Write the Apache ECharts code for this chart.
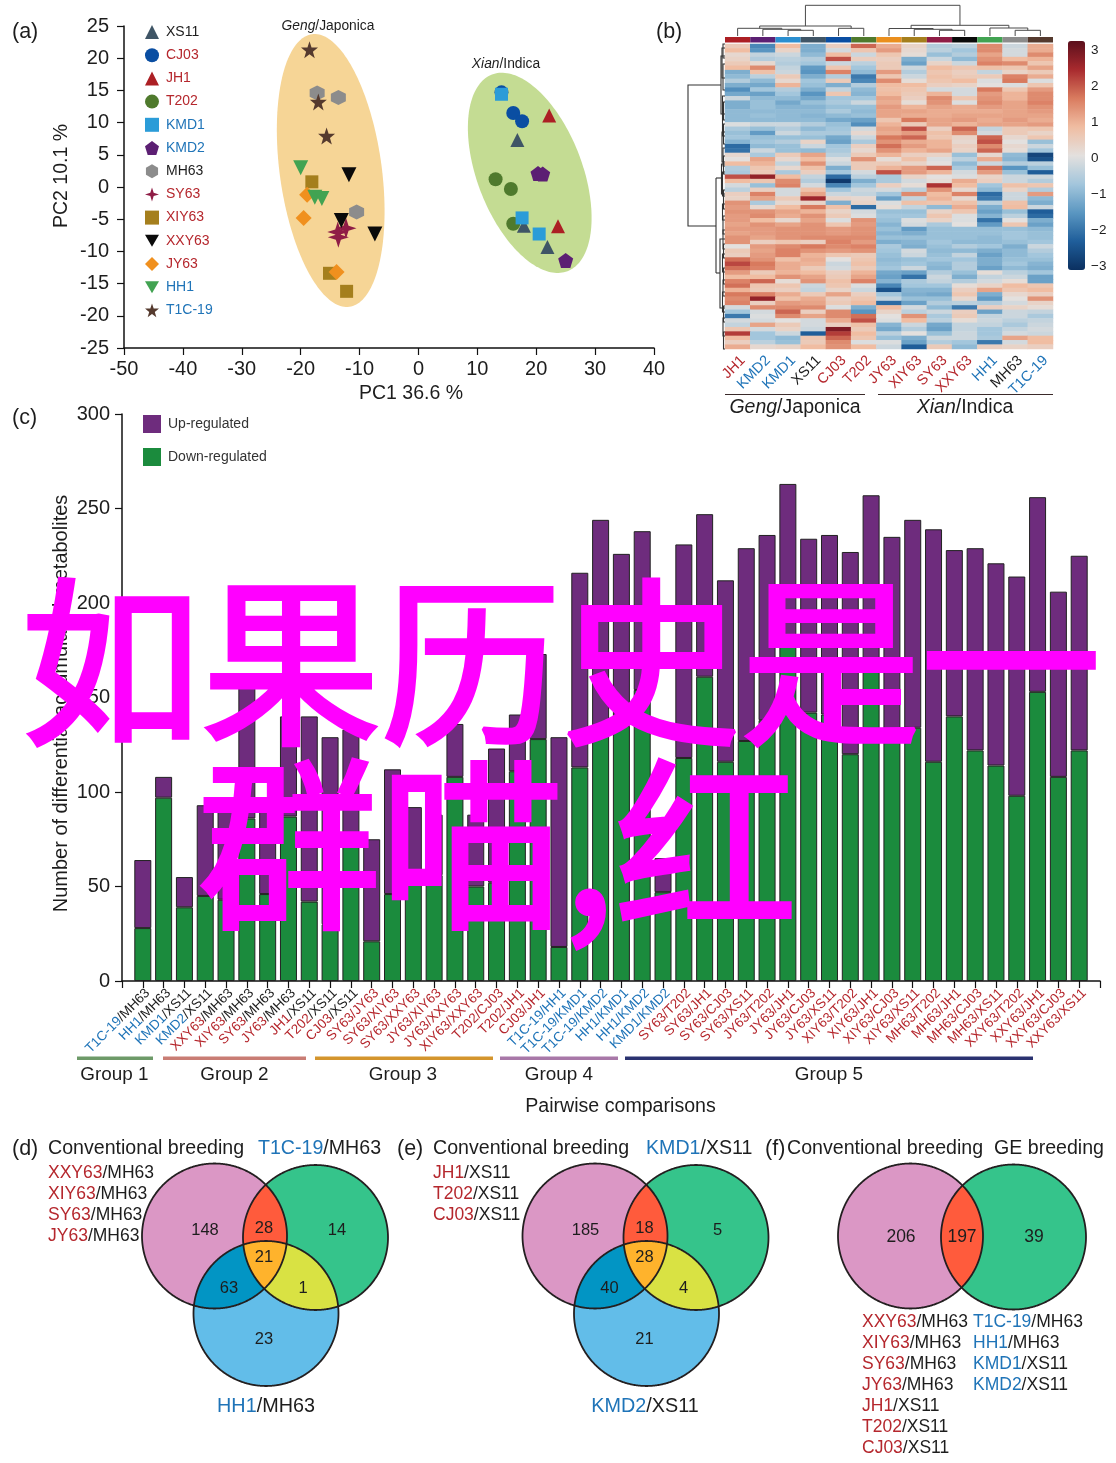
<!DOCTYPE html>
<html><head><meta charset="utf-8">
<style>html,body{margin:0;padding:0;background:#fff}#c{width:1116px;height:1463px}</style>
<script src="https://cdn.jsdelivr.net/npm/echarts@6/dist/echarts.min.js"></script>
</head><body><div id="c"></div>
<script>
/* ---------- panel (a) values ---------- */
const XS11 = [[16.8,7.3],[17.9,-6],[21.9,-9.3]];
const CJ03 = [[14.1,14.7],[16.1,11.5],[17.6,10.2]];
const JH1 = [[22.2,11.1],[23.7,-6.1]];
const T202 = [[13.1,1.2],[15.7,-0.3],[16.1,-5.7]];
const KMD1 = [[14.1,14.4],[17.6,-4.8],[20.5,-7.3]];
const KMD2 = [[20.3,2.1],[21.1,2],[25,-11.4]];
const MH63 = [[-17.2,14.6],[-13.6,13.9],[-10.5,-3.9]];
const SY63 = [[-12.3,-6.4],[-13.7,-7],[-13.6,-7.8]];
const XIY63 = [[-18.1,0.8],[-15.1,-13.4],[-12.2,-16.2]];
const XXY63 = [[-11.8,1.9],[-13.1,-5.2],[-7.4,-7.3]];
const JY63 = [[-18.9,-1.2],[-19.5,-4.8],[-13.9,-13.2]];
const HH1 = [[-20,3],[-17.6,-1.6],[-16.4,-1.8]];
const T1C19 = [[-18.5,21.3],[-17,13.2],[-15.6,7.9]];
const ellipseCenters = [[-14.9,2.56],[18.9,2.2]];

/* ---------- panel (b) values (tenths of z-score, rows top to bottom) ---------- */
const heatColumns = ['JH1','KMD2','KMD1','XS11','CJ03','T202','JY63','XIY63','SY63','XXY63','HH1','MH63','T1C-19'];
const heatRows = [
[5,-18,8,-12,4,18,10,3,-6,-5,14,-3,10],[8,-16,3,-12,-2,6,12,2,-5,-8,14,-2,10],[2,-4,-3,-10,8,-3,6,1,-9,-6,11,-2,14],
[3,-6,-5,-6,20,4,4,-12,-3,-10,13,8,9],[5,2,-6,-8,-3,-5,5,-14,3,-3,15,14,6],[8,14,-4,-15,6,-8,5,-3,8,6,7,6,11],
[-12,7,-3,-16,15,-10,12,-6,6,4,-4,3,5],[-10,-5,5,-12,-6,-20,6,-3,7,5,5,15,10],[-6,-10,2,-8,5,-18,14,1,6,8,-1,16,-1],
[-12,-13,9,-9,-12,-6,8,8,4,3,0,-1,6],[-17,-8,-6,-12,-4,-10,7,6,-2,-2,16,6,12],[-13,-14,-8,-16,6,-11,8,5,9,-2,12,9,14],
[-3,-10,-10,-13,-8,-8,11,4,14,6,13,9,14],[-12,-9,-13,-9,-7,-3,10,1,13,-1,14,11,15],[-12,-9,-11,-11,-9,-9,12,9,11,10,12,11,13],
[-10,-10,-10,-10,-7,-10,11,11,10,10,10,11,12],[-10,-9,-10,-11,-10,-9,11,10,10,11,11,11,11],[-10,-10,-10,-10,-13,-14,6,16,11,12,10,12,10],
[-1,-3,-3,-6,-9,-17,9,5,11,9,11,11,12],[-7,-9,-6,-10,-8,-2,11,20,4,18,-4,5,6],[-9,-15,-3,-7,-7,2,10,12,7,14,-2,5,3],
[-8,-9,-9,-9,-13,-3,16,18,6,3,18,2,6],[-11,-8,-6,3,-14,-7,13,10,9,2,20,0,-9],
[-22,-10,-9,-3,-8,4,17,12,9,4,14,2,-3],[-21,-3,-9,-10,-7,2,13,9,11,3,18,1,-8],[2,-7,5,11,-5,5,9,4,3,-9,2,-10,-28],
[0,11,2,8,-1,13,1,7,-1,-5,10,-11,-26],[8,9,-4,13,-3,5,5,3,0,-10,-3,-6,-5],[-6,6,2,7,-12,5,9,12,18,-7,17,-16,-9],
[-7,5,-7,4,-8,-2,20,12,9,-2,12,-9,-24],[20,26,8,-4,-22,-5,-7,3,0,-1,3,-3,-3],[8,6,14,-6,-30,-12,-7,-2,1,10,4,-3,-6],
[-2,-9,15,-2,-18,-8,4,1,23,8,-8,7,6],[-5,4,-2,7,-8,-3,-2,-5,13,2,-10,3,-6],[4,15,-2,11,-3,-4,-8,14,8,15,-22,-3,12],
[3,11,5,25,3,2,-14,-4,9,2,-20,-3,-10],[13,-7,2,3,-12,3,-1,7,6,7,-5,7,-12],[12,2,8,16,7,-22,1,-4,-10,10,-12,8,-3],
[13,13,11,9,3,-2,-9,-9,3,6,-14,-9,-24],[12,14,10,13,5,-1,-8,-8,6,-1,-11,-5,-22],[12,8,2,11,-1,13,-9,-1,3,-1,-21,0,-12],
[11,13,11,13,6,12,-11,-2,-7,0,-15,6,-14],[12,12,13,13,12,13,-9,-15,-9,-9,-9,-9,-10],[11,12,13,13,12,13,-11,-12,-9,-9,-9,-8,-9],
[13,11,13,14,14,14,-9,-9,-9,-9,-10,-8,-9],[13,4,6,4,15,12,-12,-11,-8,-10,-10,-9,-8],
[0,12,14,16,14,15,-7,-12,-9,-6,-8,-12,-3],[5,11,15,13,12,13,-8,-2,-10,-10,-12,-10,-6],[4,12,15,9,6,5,-9,-3,-9,-4,-14,-10,-8],
[17,13,7,10,0,6,-10,-9,-8,-8,-12,-9,-9],[21,16,10,9,-3,7,-9,-8,-10,-6,-12,-8,-11],[17,15,10,5,-2,5,-8,-3,-11,-6,-14,-10,-12],
[12,5,9,8,4,9,-13,-14,-6,-9,1,-5,-8],[8,8,13,11,5,11,-14,-21,-3,-12,-4,-3,-14],[15,18,1,13,7,15,-11,-7,-4,-6,-2,1,-14],
[17,6,6,-3,6,-1,-18,-8,-8,1,3,8,6],[9,5,4,-4,3,-3,-26,-11,-11,4,11,6,8],[16,15,10,5,11,4,-8,-12,-13,6,-12,2,4],
[14,26,7,10,4,6,-4,-9,-9,2,-15,0,13],[15,4,12,11,5,8,-22,-14,-6,-5,-6,-2,3],[-2,14,14,14,-1,-12,8,-2,-10,-20,4,3,1],
[-8,-2,18,4,14,-16,3,-5,-3,4,-14,-3,-4],[-20,-1,14,11,14,17,0,13,-7,5,-4,-3,-7],[-2,-2,0,-2,10,20,-1,8,-5,1,-3,-5,-4],
[-4,11,5,-2,4,7,-11,-3,-13,-4,-4,-7,-3],[6,-2,3,-3,28,5,-13,-6,-14,-4,-8,-4,-2],[22,-8,-3,-24,22,8,-5,0,-9,-3,-8,-2,-3],
[8,-8,-10,6,18,6,-9,-12,-3,-3,-7,11,8],[4,-5,-9,5,14,-1,-1,-14,-6,-8,-20,-2,8],[10,2,3,8,13,8,-3,-24,5,-10,4,3,4]];
const colorbarTicks = [3,2,1,0,-1,-2,-3];
/* nested merges: [left, right, height]; a number is a column index */
const topTree = [[[0,[1,[2,3,5.7],6.7],7.7],[4,5,7.7],10],[[6,[7,[8,9,5.7],6.7],7.5],[10,[11,12,5.7],8],10.7],30.7];
/* [depth, rowFrom, rowTo] measured from the heatmap's left edge */
const leftTangle = [[4,12,70],[3,4,34],[2,0,14],[2,20,46],[2.5,52,92],[1.5,58,76],[1.5,80,100],[3,88,118],[2,104,122],[1.5,112,130],[2.5,128,152],[1.5,146,165],[2.5,160,176],[3.5,120,150],[2,172,190],[2,186,205],[1.5,200,214],[2.5,210,228],[1.5,224,240],[2,236,252],[2.5,248,268],[1.5,262,278],[2,274,292],[1.5,288,305]];

/* ---------- panel (c) values ---------- */
const pairLabels = ['T1C-19/MH63','HH1/MH63','KMD1/XS11','KMD2/XS11','XXY63/MH63','XIY63/MH63','SY63/MH63','JY63/MH63','JH1/XS11','T202/XS11','CJ03/XS11','SY63/JY63','SY63/XIY63','SY63/XXY63','JY63/XIY63','JY63/XXY63','XIY63/XXY63','T202/CJ03','T202/JH1','CJ03/JH1','T1C-19/HH1','T1C-19/KMD1','T1C-19/KMD2','HH1/KMD1','HH1/KMD2','KMD1/KMD2','SY63/T202','SY63/JH1','SY63/CJ03','SY63/XS11','JY63/T202','JY63/JH1','JY63/CJ03','JY63/XS11','XIY63/T202','XIY63/JH1','XIY63/CJ03','XIY63/XS11','MH63/T202','MH63/JH1','MH63/CJ03','MH63/XS11','XXY63/T202','XXY63/JH1','XXY63/CJ03','XXY63/XS11'];
const totalMetabolites = [64,108,55,93,97,156,95,140,140,129,133,75,112,92,88,136,88,123,141,173,129,216,244,226,238,65,231,247,212,229,236,263,234,236,227,257,235,244,239,228,229,221,214,256,206,225];
const downRegulated = [28,97,39,45,43,86,46,87,42,30,78,21,46,53,56,108,50,52,111,128,18,113,130,135,154,47,118,161,116,127,138,178,142,141,120,168,133,134,116,140,122,114,98,153,108,122];
const groupNames = ['Group 1','Group 2','Group 3','Group 4','Group 5'];

/* ---------- panels (d)(e)(f) values ---------- */
const vennD = [148,14,23,28,63,1,21];
const vennE = [185,5,21,18,40,4,28];
const vennF = [206,39,197];

/* ---------- styling ---------- */
const FF = '"Liberation Sans", Arial, sans-serif';
const RED = '#b5272d', BLUE = '#1f74b8', INK = '#1d1d1d';
const pal = {pink:'#db97c5',green:'#35c48b',sky:'#62bde9',red:'#ff5b3c',deep:'#0295c4',orange:'#ffb32c',yellow:'#d9e243',line:'#231f20'};
const richTone = {r:{color:RED},b:{color:BLUE},k:{color:INK}};
const gRich = s => ({r:{fill:RED,fontSize:s,fontFamily:FF},b:{fill:BLUE,fontSize:s,fontFamily:FF},k:{fill:INK,fontSize:s,fontFamily:FF},
  i:{fill:INK,fontSize:s,fontFamily:FF,fontStyle:'italic'}});
const hexP='path://M5 0L9.33 2.5L9.33 7.5L5 10L0.67 7.5L0.67 2.5Z', penP='path://M5 0L10 3.8L8.1 10L1.9 10L0 3.8Z',
 starP='path://M5 0L6.2 3.6L10 3.6L7 6L8.1 9.8L5 7.5L1.9 9.8L3 6L0 3.6L3.8 3.6Z', sparkP='path://M5 0L6.2 3.8L10 5L6.2 6.2L5 10L3.8 6.2L0 5L3.8 3.8Z',
 invP='path://M0 1L10 1L5 9.5Z';
const scatterDefs = [
 ['XS11',XS11,'triangle','#3f5566',INK,14],['CJ03',CJ03,'circle','#0a4ea2',RED,14],['JH1',JH1,'triangle','#ac1f24',RED,14],
 ['T202',T202,'circle','#4f7a2d',RED,14],['KMD1',KMD1,'rect','#2b9cd8',BLUE,13],['KMD2',KMD2,penP,'#5c1f73',BLUE,15],
 ['MH63',MH63,hexP,'#8c8c8c',INK,15],['SY63',SY63,sparkP,'#8f1d46',RED,21],['XIY63',XIY63,'rect','#a57f1d',RED,13],
 ['XXY63',XXY63,invP,'#0a0a0a',RED,15],['JY63',JY63,'diamond','#f0901e',RED,16],['HH1',HH1,invP,'#42a352',BLUE,15],['T1C-19',T1C19,starP,'#553a2e',BLUE,17]];
const heatTone = {JH1:'r',KMD2:'b',KMD1:'b',XS11:'k',CJ03:'r',T202:'r',JY63:'r',XIY63:'r',SY63:'r',XXY63:'r',HH1:'b',MH63:'k','T1C-19':'b'};
const annotColors = ['#ac1f24','#5c1f73','#2b8fd0','#3f5566','#0a4ea2','#4f7a2d','#ea8f1e','#a57f1d','#8f1d46','#0a0a0a','#42a352','#8c8c8c','#553a2e'];
const groupSizes = [4,7,9,6,20];
const groupTone = [['b','k'],['r','k'],['r','r'],['b','b'],['r','r']];
function pairTone(i){let n=0;for(let g=0;g<5;g++){n+=groupSizes[g];if(i<n)return groupTone[g];}return ['r','r'];}

/* ---------- helpers ---------- */
function lineSeries(segs,xi,yi,color,width,z){
 return {type:'custom',coordinateSystem:'cartesian2d',xAxisIndex:xi,yAxisIndex:yi,silent:true,clip:false,z:z||2,animation:false,
  data:segs.map((s,i)=>[i]),
  renderItem:(p,api)=>({type:'polyline',shape:{points:segs[p.dataIndex].map(q=>api.coord(q))},style:{fill:'none',stroke:color,lineWidth:width}})};
}
function fillSeries(shapes,xi,yi,z){
 return {type:'custom',coordinateSystem:'cartesian2d',xAxisIndex:xi,yAxisIndex:yi,silent:true,clip:false,z:z,animation:false,
  data:shapes.map((s,i)=>[i]),
  renderItem:(p,api)=>{const s=shapes[p.dataIndex];return {type:'polygon',shape:{points:s.pts.map(q=>s.toPx?s.toPx(q,api):api.coord(q))},
    style:{fill:s.fill,stroke:s.stroke||'none',lineWidth:s.lw||0}};}};
}
function treeSegs(node,out){
 if(typeof node==='number')return {x:node+0.5,h:0};
 const a=treeSegs(node[0],out),b=treeSegs(node[1],out),h=node[2];
 out.push([[a.x,a.h],[a.x,h],[b.x,h],[b.x,b.h]]);
 return {x:(a.x+b.x)/2,h};
}
const topSegs=[];treeSegs(topTree,topSegs);
const leftSegs=[[[4,41],[37,41],[37,182],[9,182]],[[9,134],[9,229]],[[9,134],[3.5,134]],[[9,229],[5,229]],[[0,195],[5,195],[5,264],[0,264]]]
 .concat(leftTangle.map(t=>[[0,t[1]],[t[0],t[1]],[t[0],t[2]],[0,t[2]]]));
function circlePts(c){const o=[];for(let a=0;a<720;a++){const t=a*Math.PI/360;o.push([c[0]+c[2]*Math.cos(t),c[1]+c[2]*Math.sin(t)]);}return o;}
function region(cs){
 let pts=[];
 cs.forEach((c,ci)=>circlePts(c).forEach(p=>{if(cs.every((d,di)=>di===ci||Math.hypot(p[0]-d[0],p[1]-d[1])<=d[2]))pts.push(p);}));
 const mx=pts.reduce((s,p)=>s+p[0],0)/pts.length,my=pts.reduce((s,p)=>s+p[1],0)/pts.length;
 return pts.sort((p,q)=>Math.atan2(p[1]-my,p[0]-mx)-Math.atan2(q[1]-my,q[0]-mx));
}
function venn3(dx){
 const A=[214.5+dx,1236,72.5],B=[315.5+dx,1237.5,72.5],C=[266+dx,1313.5,72.5];
 return [{pts:circlePts(A),fill:pal.pink},{pts:circlePts(B),fill:pal.green},{pts:circlePts(C),fill:pal.sky},
  {pts:region([A,B]),fill:pal.red},{pts:region([A,C]),fill:pal.deep},{pts:region([B,C]),fill:pal.yellow},{pts:region([A,B,C]),fill:pal.orange},
  {pts:circlePts(A),fill:'none',stroke:pal.line,lw:1.8},{pts:circlePts(B),fill:'none',stroke:pal.line,lw:1.8},{pts:circlePts(C),fill:'none',stroke:pal.line,lw:1.8}];
}
function venn2(){
 const A=[910.5,1236,72.5],B=[1013.5,1237,72.5];
 return [{pts:circlePts(A),fill:pal.pink},{pts:circlePts(B),fill:pal.green},{pts:region([A,B]),fill:pal.red},
  {pts:circlePts(A),fill:'none',stroke:pal.line,lw:1.8},{pts:circlePts(B),fill:'none',stroke:pal.line,lw:1.8}];
}
const ellipseShapes=[{a:137.6,b:51,t:7.8,fill:'#f6d596'},{a:105.3,b:52.5,t:21,fill:'#c4dc93'}].map((e,i)=>({
 pts:Array.from({length:180},(_,k)=>k),fill:e.fill,
 toPx:(k,api)=>{const c=api.coord(ellipseCenters[i]),th=k*Math.PI/90,r=e.t*Math.PI/180,u=e.b*Math.cos(th),v=e.a*Math.sin(th);
   return [c[0]+u*Math.cos(r)+v*Math.sin(r),c[1]-u*Math.sin(r)+v*Math.cos(r)];}}));

/* ---------- graphic text ---------- */
function T(x,y,text,size,o){o=o||{};
 const st={text:text,fontFamily:o.ff||FF,fontSize:size,fill:o.fill||INK,align:o.align||'left',verticalAlign:'middle',rich:gRich(size),fontWeight:o.weight||'normal',fontStyle:o.style||'normal'};
 if(o.stroke){st.stroke=o.stroke;st.lineWidth=o.lw;}
 return {type:'text',x:x,y:o.stroke?y:y+1,z:o.z||20,rotation:o.rot||0,silent:true,style:st};
}
const H=(x1,x2,y,h,c)=>({type:'rect',shape:{x:x1,y:y,width:x2-x1,height:h},style:{fill:c},z:20,silent:true});
const g=[];
[['(a)',12,31],['(b)',656,31],['(c)',12,417],['(d)',12,1148],['(e)',397,1148],['(f)',765,1148]].forEach(p=>g.push(T(p[1],p[2],p[0],21.5)));
g.push(T(328,25,'{i|Geng}{k|/Japonica}',13.8,{align:'center'}),T(506,63,'{i|Xian}{k|/Indica}',13.8,{align:'center'}));
colorbarTicks.forEach((t,i)=>g.push(T(1091,157-t*36,String(t).replace('-','\u2212'),13.5,{align:'left'})));
g.push(H(725,865,394,1,'#3a2a2a'),H(878,1053,394,1,'#3a2a2a'),T(795,407,'{i|Geng}{k|/Japonica}',19.5,{align:'center'}),T(965,407,'{i|Xian}{k|/Indica}',19.5,{align:'center'}));
[[77,153,'#6d9a68',114.5],[163,306,'#c97d74',234.5],[315,493,'#d4952d',403],[500,618,'#a878a8',559],[625,1033,'#2a3270',829]].forEach((r,i)=>{
 g.push(H(r[0],r[1],1056.5,3.5,r[2]),T(r[3],1074,groupNames[i],18.9,{align:'center'}));});
g.push(T(620.5,1106,'Pairwise comparisons',19.6,{align:'center'}));
/* venn titles and lists */
g.push(T(48,1148,'Conventional breeding',19.6),T(258,1148,'{b|T1C-19}{k|/MH63}',19.6));
['XXY63','XIY63','SY63','JY63'].forEach((n,i)=>g.push(T(48,1172+i*21,`{r|${n}}{k|/MH63}`,17.5)));
g.push(T(266,1406,'{b|HH1}{k|/MH63}',19.8,{align:'center'}));
g.push(T(433,1148,'Conventional breeding',19.6),T(646,1148,'{b|KMD1}{k|/XS11}',19.6));
['JH1','T202','CJ03'].forEach((n,i)=>g.push(T(433,1172+i*21,`{r|${n}}{k|/XS11}`,17.5)));
g.push(T(645,1406,'{b|KMD2}{k|/XS11}',19.8,{align:'center'}));
g.push(T(787,1148,'Conventional breeding',19.6),T(994,1148,'GE breeding',19.6));
[['XXY63','MH63'],['XIY63','MH63'],['SY63','MH63'],['JY63','MH63'],['JH1','XS11'],['T202','XS11'],['CJ03','XS11']].forEach((n,i)=>g.push(T(862,1321+i*21,`{r|${n[0]}}{k|/${n[1]}}`,17.5)));
[['T1C-19','MH63'],['HH1','MH63'],['KMD1','XS11'],['KMD2','XS11']].forEach((n,i)=>g.push(T(973,1321+i*21,`{b|${n[0]}}{k|/${n[1]}}`,17.5)));
const v3Pos=[[205,1229],[337,1229],[264,1338],[264,1227],[229,1287],[303,1287],[264,1256]];
vennD.forEach((v,i)=>g.push(T(v3Pos[i][0],v3Pos[i][1],String(v),16.5,{align:'center'})));
vennE.forEach((v,i)=>g.push(T(v3Pos[i][0]+380.5,v3Pos[i][1],String(v),16.5,{align:'center'})));
[[901,1236],[1034,1236],[962,1236]].forEach((p,i)=>g.push(T(p[0],p[1],String(vennF[i]),17.5,{align:'center'})));
/* magenta overlay */
const CJK='"Noto Sans CJK SC","Noto Sans CJK JP",sans-serif';
g.push(T(561,662,'如果历史是一',180,{ff:CJK,fill:'#ff00ff',align:'center',z:100,stroke:'#ff00ff',lw:4}));
g.push(T(497.5,844,'群喵,红',183,{ff:CJK,fill:'#ff00ff',align:'center',z:100,stroke:'#ff00ff',lw:4}));

/* ---------- axes ---------- */
const axisLn={show:true,onZero:false,lineStyle:{color:'#111',width:1.5}},tickLn={show:true,length:7,lineStyle:{color:'#111',width:1.2}};
const tickTxt={fontSize:20,color:INK,fontFamily:FF};
const hiddenV=(min,max,inv)=>({type:'value',min,max,inverse:!!inv,show:false,splitLine:{show:false}});
const padCats=[''].concat(pairLabels,['']);
const xAxes=[
 {type:'value',gridIndex:0,min:-50,max:40,interval:10,axisLine:axisLn,axisTick:tickLn,axisLabel:Object.assign({margin:11},tickTxt),splitLine:{show:false},
  name:'PC1 36.6 %',nameLocation:'middle',nameGap:36,nameTextStyle:{fontSize:19.5,fontFamily:FF,color:INK,padding:[0,0,0,44]}},
 {type:'category',gridIndex:1,data:heatColumns,axisLine:{show:false},axisTick:{show:false},splitLine:{show:false},
  axisLabel:{interval:0,rotate:45,margin:4,verticalAlign:'top',fontSize:14.5,fontFamily:FF,formatter:v=>`{${heatTone[v]}|${v}}`,rich:richTone}},
 {type:'category',gridIndex:2,data:heatColumns,show:false},
 Object.assign(hiddenV(0,13),{gridIndex:3}),
 Object.assign(hiddenV(0,39,true),{gridIndex:4}),
 {type:'category',gridIndex:5,data:padCats,boundaryGap:false,axisLine:axisLn,axisTick:{show:true,alignWithLabel:true,length:7,lineStyle:{color:'#111',width:1.2}},splitLine:{show:false},
  axisLabel:{interval:0,rotate:45,margin:5,verticalAlign:'top',fontSize:13.5,fontFamily:FF,hideOverlap:false,rich:richTone,
   formatter:(v,i)=>{if(!v)return '';const t=pairTone(i-1),p=v.split('/');return `{${t[0]}|${p[0]}}{${t[1]}|/${p[1]}}`;}}},
 Object.assign(hiddenV(0,1116),{gridIndex:6})
];
const yAxes=[
 {type:'value',gridIndex:0,min:-25,max:25,interval:5,axisLine:axisLn,axisTick:tickLn,axisLabel:Object.assign({margin:15},tickTxt),splitLine:{show:false},
  name:'PC2 10.1 %',nameLocation:'middle',nameGap:52,nameTextStyle:{fontSize:19.5,fontFamily:FF,color:INK,padding:[0,0,0,22]}},
 {type:'category',gridIndex:1,data:heatRows.map((r,i)=>i),inverse:true,show:false},
 Object.assign(hiddenV(0,1),{gridIndex:2}),
 Object.assign(hiddenV(0,31),{gridIndex:3}),
 Object.assign(hiddenV(0,305,true),{gridIndex:4}),
 {type:'value',gridIndex:5,min:0,max:300,interval:50,axisLine:axisLn,axisTick:tickLn,axisLabel:Object.assign({margin:12},tickTxt),splitLine:{show:false},
  name:'Number of differential accumulated metabolites',nameLocation:'middle',nameGap:51,nameMoveOverlap:false,nameTextStyle:{fontSize:20,fontFamily:FF,color:INK,padding:[0,12,0,0]}},
 Object.assign(hiddenV(0,1463,true),{gridIndex:6})
];
const grids=[
 {left:124,top:26,width:530,height:322},
 {left:725,top:44,width:328,height:305},
 {left:725,top:37,width:328,height:5.5},
 {left:725,top:5,width:328,height:31},
 {left:686,top:44,width:39,height:305},
 {left:122,top:414,width:978,height:567},
 {left:0,top:0,width:1116,height:1463}
];

/* ---------- series ---------- */
const series=[];
series.push(fillSeries(ellipseShapes,0,0,1));
scatterDefs.forEach(d=>series.push({type:'scatter',name:d[0],xAxisIndex:0,yAxisIndex:0,symbol:d[2],symbolSize:d[5],data:d[1],itemStyle:{color:d[3],opacity:1},z:3,animation:false}));
const heatIndex=series.length;
const heatData=[];heatRows.forEach((r,y)=>r.forEach((v,x)=>heatData.push([x,y,v/10])));
series.push({type:'heatmap',xAxisIndex:1,yAxisIndex:1,data:heatData,progressive:0,animation:false,silent:true,itemStyle:{borderWidth:0}});
series.push({type:'bar',xAxisIndex:2,yAxisIndex:2,barWidth:'100%',silent:true,animation:false,data:annotColors.map(c=>({value:1,itemStyle:{color:c}}))});
series.push(lineSeries(topSegs,3,3,'#4a4a4a',1));
series.push(lineSeries(leftSegs,4,4,'#333',1.1));
const barStyle=c=>({color:c,borderColor:'#222',borderWidth:1});
series.push({type:'bar',name:'Down-regulated',xAxisIndex:5,yAxisIndex:5,stack:'m',barWidth:17,itemStyle:barStyle('#1b8b3d'),animation:false,data:[null].concat(downRegulated,[null])});
series.push({type:'bar',name:'Up-regulated',xAxisIndex:5,yAxisIndex:5,stack:'m',barWidth:17,itemStyle:barStyle('#6e2c7d'),animation:false,data:[null].concat(totalMetabolites.map((t,i)=>t-downRegulated[i]),[null])});
series.push(fillSeries(venn3(0).concat(venn3(380.5),venn2()),6,6,5));

const option={
 backgroundColor:'#fff',animation:false,textStyle:{fontFamily:FF},
 grid:grids,xAxis:xAxes,yAxis:yAxes,series:series,graphic:{elements:g},
 legend:[
  {orient:'vertical',left:140,top:20,itemWidth:14,itemHeight:14,itemGap:9.2,selectedMode:false,textStyle:{fontSize:14,fontFamily:FF,padding:[0,0,0,2]},
   data:scatterDefs.map(d=>({name:d[0],textStyle:{color:d[4]}}))},
  {orient:'vertical',left:138,top:410,itemWidth:18,itemHeight:18,itemGap:15,selectedMode:false,itemStyle:{borderWidth:0},textStyle:{fontSize:14,fontFamily:FF,color:'#333',padding:[0,0,0,2]},
   data:[{name:'Up-regulated',icon:'rect'},{name:'Down-regulated',icon:'rect'}]}
 ],
 visualMap:{type:'continuous',seriesIndex:heatIndex,min:-3.18,max:3.18,left:1068,top:41,padding:0,itemWidth:17,itemHeight:229,calculable:false,hoverLink:false,showLabel:false,
  inRange:{color:['#0b3060','#1f5e9a','#5a96c1','#a3c6dc','#e3e0de','#f0bda2','#d97b5f','#a82a2e','#5b0f1c']}}
};
echarts.init(document.getElementById('c')).setOption(option);
</script></body></html>
